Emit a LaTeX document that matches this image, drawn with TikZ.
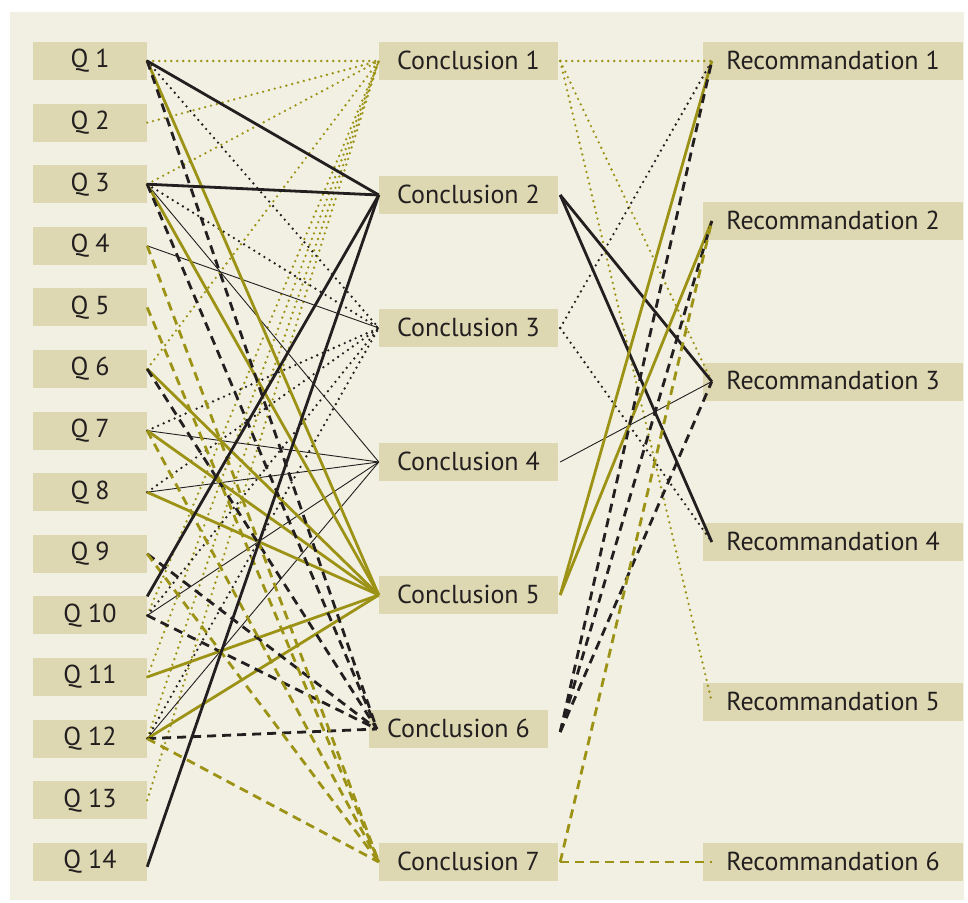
\documentclass[tikz,border=0pt]{standalone}
\usepackage{fontspec}
\setmainfont{PT Sans}
\definecolor{bgcol}{HTML}{F2F0E2}
\definecolor{boxcol}{HTML}{DDD8B1}
\definecolor{olive}{HTML}{9C9316}
\definecolor{ink}{HTML}{231F20}
\begin{document}
\begin{tikzpicture}[x=1pt,y=-1pt,
  box/.style={fill=boxcol,inner sep=0pt,minimum height=38pt,font=\fontsize{26}{30}\selectfont,text=ink},
  qbox/.style={box,minimum width=114pt},
  cbox/.style={box,minimum width=179pt},
  rbox/.style={box,minimum width=260pt},
  odot/.style={olive,line width=2.6pt,line cap=round,dash pattern=on 0pt off 6pt},
  bdot/.style={ink,line width=2.6pt,line cap=round,dash pattern=on 0pt off 6pt},
  bsol/.style={ink,line width=2.8pt},
  bthin/.style={ink,line width=0.9pt},
  osol/.style={olive,line width=2.8pt},
  bdash/.style={ink,line width=2.8pt,dash pattern=on 9pt off 6pt},
  odash/.style={olive,line width=2.8pt,dash pattern=on 9pt off 6pt}]
\useasboundingbox (0,0) rectangle (968,902);
\fill[bgcol] (10,12) rectangle (964,900);
% question boxes
\foreach \i in {1,...,14}{
  \pgfmathsetmacro\yy{61+(\i-1)*61.6}
  \node[qbox] (q\i) at (90,\yy) {\raisebox{2pt}{Q \i}};
}
% conclusion boxes
\node[cbox] (c1) at (468.5,61) {\raisebox{2pt}{Conclusion 1}};
\node[cbox] (c2) at (468.5,195) {\raisebox{2pt}{Conclusion 2}};
\node[cbox] (c3) at (468.5,328) {\raisebox{2pt}{Conclusion 3}};
\node[cbox] (c4) at (468.5,462) {\raisebox{2pt}{Conclusion 4}};
\node[cbox] (c5) at (468.5,595) {\raisebox{2pt}{Conclusion 5}};
\node[cbox] (c6) at (458.5,729) {\raisebox{2pt}{Conclusion 6}};
\node[cbox] (c7) at (468.5,862) {\raisebox{2pt}{Conclusion 7}};
% recommendation boxes
\node[rbox] (r1) at (833,61) {\raisebox{2pt}{Recommandation 1}};
\node[rbox] (r2) at (833,221) {\raisebox{2pt}{Recommandation 2}};
\node[rbox] (r3) at (833,381.5) {\raisebox{2pt}{Recommandation 3}};
\node[rbox] (r4) at (833,542) {\raisebox{2pt}{Recommandation 4}};
\node[rbox] (r5) at (833,702) {\raisebox{2pt}{Recommandation 5}};
\node[rbox] (r6) at (833,862) {\raisebox{2pt}{Recommandation 6}};
% anchor coordinates
\foreach \i in {1,2,3,4,5,7}{
  \coordinate (cl\i) at (c\i.west);
  \coordinate (cr\i) at ([xshift=2pt]c\i.east);
}
\coordinate (cl6) at ([xshift=8pt]c6.west);
\coordinate (cr6) at ([xshift=12pt,yshift=-3pt]c6.east);
\foreach \i in {1,...,6}{
  \coordinate (rl\i) at ([xshift=9pt]r\i.west);
}
\coordinate (q10a) at ([yshift=19pt]q10.east);
\coordinate (q14a) at ([yshift=-5pt]q14.east);
% Q -> C
\foreach \a/\b in {1/1,2/1,3/1,6/1,10/1,11/1,12/1,13/1}{\draw[odot] (q\a.east) -- (cl\b);}
\foreach \a/\b in {1/3,3/3,7/3,8/3,10/3,12/3}{\draw[bdot] (q\a.east) -- (cl\b);}
\foreach \a/\b in {3/4,4/3,7/4,8/4,10/4,12/4}{\draw[bthin] (q\a.east) -- (cl\b);}
\foreach \a/\b in {1/5,3/5,6/5,7/5,8/5,11/5,12/5}{\draw[osol] (q\a.east) -- (cl\b);}
\foreach \a/\b in {1/6,3/6,6/6,9/6,10/6,12/6}{\draw[bdash] (q\a.east) -- (cl\b);}
\foreach \a/\b in {4/7,5/7,7/7,9/7,12/7}{\draw[odash] (q\a.east) -- (cl\b);}
\draw[bsol] (q1.east) -- (cl2);
\draw[bsol] (q3.east) -- (cl2);
\draw[bsol] (q10a) -- (cl2);
\draw[bsol] (q14a) -- (cl2);
% C -> R
\foreach \a/\b in {1/1,1/3,1/5}{\draw[odot] (cr\a) -- (rl\b);}
\foreach \a/\b in {2/3,2/4}{\draw[bsol] (cr\a) -- (rl\b);}
\foreach \a/\b in {3/1,3/4}{\draw[bdot] (cr\a) -- (rl\b);}
\draw[bthin] (cr4) -- (rl3);
\foreach \a/\b in {5/1,5/2}{\draw[osol] (cr\a) -- (rl\b);}
\foreach \a/\b in {6/1,6/2,6/3}{\draw[bdash] (cr\a) -- (rl\b);}
\foreach \a/\b in {7/2,7/6}{\draw[odash] (cr\a) -- (rl\b);}
\end{tikzpicture}
\end{document}
